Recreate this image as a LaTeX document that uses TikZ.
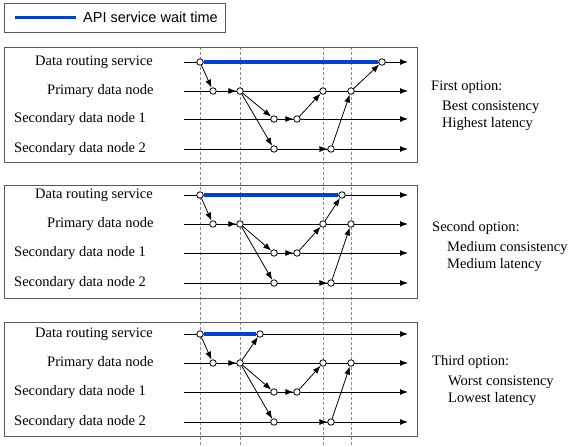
\documentclass[tikz,border=0pt]{standalone}
\usepackage{fontspec}
\setmainfont{Liberation Serif}
\newfontfamily\legendfont{Liberation Sans}
\usetikzlibrary{arrows.meta,
	positioning
}
\definecolor{waitblue}{RGB}{0,64,220}
\tikzset{
	panel/.style={draw=black!65, line width=1pt},
	guide/.style={draw=black!45, line width=0.6pt, dash pattern=on 3pt off 2pt},
	timeline/.style={line width=0.9pt, -{Latex[length=8pt,width=6pt]}},
	flow/.style={line width=0.8pt, -{Latex[length=8pt,width=6pt]}},
	wait/.style={draw=waitblue, line width=3.5pt},
	event/.style={circle, draw, fill=white, inner sep=0pt, minimum size=6.5pt, line width=0.8pt},
	row/.style={anchor=west, inner sep=0pt},
	option/.style={anchor=west, inner sep=0pt, align=left},
}

\begin{document}
\begin{tikzpicture}[x=1pt, y=-1pt, font=\fontsize{14.5}{17}\selectfont]

\useasboundingbox (0,0) rectangle (571,447);

% legend

\draw[panel] (4,3) rectangle (225,32);
\coordinate (la) at (15,17);
\coordinate (lb) at (76,17);
\draw[wait, line width=3pt] (la) -- (lb);
\node[row, font=\legendfont\fontsize{14.5}{17}\selectfont] (lt) at (83,17) {API service wait time};

% panels and guides

\draw[guide] (200,47) -- (200,447);
\draw[guide] (240,47) -- (240,447);
\draw[guide] (323.5,47) -- (323.5,447);
\draw[guide] (351,47) -- (351,447);

\draw[panel] (4,47) rectangle (417,162);
\draw[panel] (4,185) rectangle (417,298);
\draw[panel] (4,322) rectangle (417,436);

% first option

\node[row] (d1) at (35,62) {Data routing service};
\node[row] (p1) at (47,91) {Primary data node};
\node[row] (s1) at (14,119) {Secondary data node 1};
\node[row] (t1) at (14,149) {Secondary data node 2};

\coordinate (d1a) at (184,62);  \coordinate (d1b) at (408,62);
\coordinate (p1a) at (184,91);  \coordinate (p1b) at (408,91);
\coordinate (s1a) at (184,119); \coordinate (s1b) at (408,119);
\coordinate (t1a) at (184,149); \coordinate (t1b) at (408,149);
\draw[timeline] (d1a) -- (d1b);
\draw[timeline] (p1a) -- (p1b);
\draw[timeline] (s1a) -- (s1b);
\draw[timeline] (t1a) -- (t1b);

\node[event] (rs1) at (200,62) {};
\node[event] (re1) at (382,62) {};
\node[event] (pa1) at (213,91) {};
\node[event] (pb1) at (240,91) {};
\node[event] (pc1) at (323,91) {};
\node[event] (pd1) at (351,91) {};
\node[event] (sa1) at (274,119) {};
\node[event] (sb1) at (297,119) {};
\node[event] (ta1) at (274,149) {};
\node[event] (tb1) at (331,149) {};

\node[option] (o1) at (431,87) {First option:};
\node[option] (o1b) at (442,116) {Best consistency\\Highest latency};

% second option

\node[row] (d2) at (35,195) {Data routing service};
\node[row] (p2) at (47,224) {Primary data node};
\node[row] (s2) at (14,253) {Secondary data node 1};
\node[row] (t2) at (14,283) {Secondary data node 2};

\coordinate (d2a) at (184,195); \coordinate (d2b) at (408,195);
\coordinate (p2a) at (184,224); \coordinate (p2b) at (408,224);
\coordinate (s2a) at (184,253); \coordinate (s2b) at (408,253);
\coordinate (t2a) at (184,283); \coordinate (t2b) at (408,283);
\draw[timeline] (d2a) -- (d2b);
\draw[timeline] (p2a) -- (p2b);
\draw[timeline] (s2a) -- (s2b);
\draw[timeline] (t2a) -- (t2b);

\node[event] (rs2) at (200,195) {};
\node[event] (re2) at (342,195) {};
\node[event] (pa2) at (213,224) {};
\node[event] (pb2) at (240,224) {};
\node[event] (pc2) at (323,224) {};
\node[event] (pd2) at (351,224) {};
\node[event] (sa2) at (274,253) {};
\node[event] (sb2) at (297,253) {};
\node[event] (ta2) at (274,283) {};
\node[event] (tb2) at (331,283) {};

\node[option] (o2) at (432,228) {Second option:};
\node[option] (o2b) at (447,257) {Medium consistency\\Medium latency};

% third option

\node[row] (d3) at (35,334) {Data routing service};
\node[row] (p3) at (47,363) {Primary data node};
\node[row] (s3) at (14,392) {Secondary data node 1};
\node[row] (t3) at (14,422) {Secondary data node 2};

\coordinate (d3a) at (184,334); \coordinate (d3b) at (408,334);
\coordinate (p3a) at (184,363); \coordinate (p3b) at (408,363);
\coordinate (s3a) at (184,392); \coordinate (s3b) at (408,392);
\coordinate (t3a) at (184,422); \coordinate (t3b) at (408,422);
\draw[timeline] (d3a) -- (d3b);
\draw[timeline] (p3a) -- (p3b);
\draw[timeline] (s3a) -- (s3b);
\draw[timeline] (t3a) -- (t3b);

\node[event] (rs3) at (200,334) {};
\node[event] (re3) at (260,334) {};
\node[event] (pa3) at (213,363) {};
\node[event] (pb3) at (240,363) {};
\node[event] (pc3) at (323,363) {};
\node[event] (pd3) at (351,363) {};
\node[event] (sa3) at (274,392) {};
\node[event] (sb3) at (297,392) {};
\node[event] (ta3) at (274,422) {};
\node[event] (tb3) at (331,422) {};

\node[option] (o3) at (432,362) {Third option:};
\node[option] (o3b) at (448,391) {Worst consistency\\Lowest latency};

% connections

\path (rs1) edge[wait] (re1);
\path (rs1) edge[flow] (pa1);
\path (pa1) edge[flow] (pb1);
\path (pb1) edge[flow] (sa1);
\path (pb1) edge[flow] (ta1);
\path (sa1) edge[flow] (sb1);
\path (sb1) edge[flow] (pc1);
\path (ta1) edge[flow] (tb1);
\path (tb1) edge[flow] (pd1);
\path (pd1) edge[flow] (re1);

\path (rs2) edge[wait] (re2);
\path (rs2) edge[flow] (pa2);
\path (pa2) edge[flow] (pb2);
\path (pb2) edge[flow] (sa2);
\path (pb2) edge[flow] (ta2);
\path (sa2) edge[flow] (sb2);
\path (sb2) edge[flow] (pc2);
\path (ta2) edge[flow] (tb2);
\path (tb2) edge[flow] (pd2);
\path (pc2) edge[flow] (re2);

\path (rs3) edge[wait] (re3);
\path (rs3) edge[flow] (pa3);
\path (pa3) edge[flow] (pb3);
\path (pb3) edge[flow] (re3);
\path (pb3) edge[flow] (sa3);
\path (pb3) edge[flow] (ta3);
\path (sa3) edge[flow] (sb3);
\path (sb3) edge[flow] (pc3);
\path (ta3) edge[flow] (tb3);
\path (tb3) edge[flow] (pd3);

\end{tikzpicture}
\end{document}
